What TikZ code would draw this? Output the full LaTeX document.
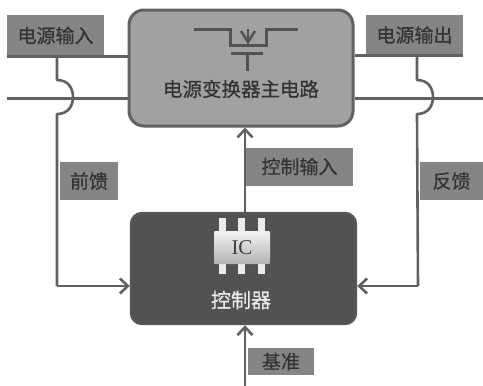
\documentclass[tikz,border=0pt]{standalone}
\usepackage{fontspec}
\setmainfont[FakeBold=0.6]{Noto Sans CJK SC}
\newfontfamily\icfont{Liberation Serif}
\usetikzlibrary{arrows.meta,calc}
\definecolor{linegray}{gray}{0.38}
\definecolor{labelgray}{gray}{0.52}
\definecolor{maingray}{gray}{0.63}
\definecolor{ctrlgray}{gray}{0.32}
\definecolor{textgray}{gray}{0.2}
\tikzset{
  x=1pt,y=-1pt,
  wire/.style={draw=linegray,line width=3pt,line join=round},
  thinwire/.style={draw=linegray,line width=2.6pt,line join=round},
  arrowwire/.style={thinwire,-{Straight Barb[length=8pt,width=15pt,line width=2.6pt]}},
  labelbox/.style={fill=labelgray,text=textgray,inner sep=0pt,font=\fontsize{19}{19}\selectfont},
  pin/.style={fill=black!8,draw=none},
  fet/.style={draw=black!68,line width=3pt,line join=miter},
}
\begin{document}
\begin{tikzpicture}
\useasboundingbox (0,0) rectangle (483,386);
\fill[white] (0,0) rectangle (483,386);
% labels
\node[labelbox,minimum width=97pt,minimum height=41pt] (inlab) at (55.5,35.5) {电源输入};
\node[labelbox,minimum width=97pt,minimum height=40pt] (outlab) at (414.5,35) {电源输出};
\node[labelbox,minimum width=58pt,minimum height=38pt] (fflab) at (89,181) {前馈};
\node[labelbox,minimum width=63pt,minimum height=38pt] (fblab) at (451.5,181) {反馈};
\node[labelbox,minimum width=107pt,minimum height=38pt] (cilab) at (299.5,166.5) {控制输入};
\node[labelbox,minimum width=66pt,minimum height=27pt] (reflab) at (281,361.5) {基准};
% main blocks
\node[draw=linegray,line width=3pt,fill=maingray,rounded corners=15pt,minimum width=224pt,minimum height=116pt] (main) at (241,68) {};
\node[draw=black!66,line width=2.4pt,fill=ctrlgray,rounded corners=11pt,minimum width=225pt,minimum height=111pt] (ctrl) at (243.5,268.5) {};
\node[text=textgray,font=\fontsize{19.5}{20}\selectfont,inner sep=0pt] (maintext) at (241,89) {电源变换器主电路};
\node[text=white!92!black,font=\fontsize{20}{20}\selectfont,inner sep=0pt] (ctrltext) at (241,300) {控制器};
% coordinates
\coordinate (lbus) at (7,98);
\coordinate (rbus) at (483,98);
\coordinate (fa) at (57,80);
\coordinate (fb) at (57,114);
\coordinate (fc) at (57,286);
\coordinate (ga) at (417,80);
\coordinate (gb) at (417,114);
\coordinate (gc) at (418,286);
\coordinate (refstart) at (245,386);
% wires
\draw[wire] (inlab.south west) -- (inlab.south east) -- (main.west |- inlab.south);
\draw[wire] (outlab.south east) -- (outlab.south west) -- (main.east |- outlab.south);
\draw[wire] (lbus) -- (main.west |- lbus);
\draw[wire] (main.east |- rbus) -- (rbus);
\draw[thinwire] (57,55) -- (fa) .. controls (68,80) and (73,88) .. (73,97) .. controls (73,106) and (68,114) .. (fb) -- (fc) ;
\draw[arrowwire] (fc) -- (ctrl.west |- fc);
\draw[thinwire] (417,55) -- (ga) .. controls (428,80) and (433,88) .. (433,97) .. controls (433,106) and (428,114) .. (gb) -- (gc);
\draw[arrowwire] (gc) -- (ctrl.east |- gc);
\draw[arrowwire] (ctrl.north -| 245,0) -- (main.south -| 245,0);
\draw[arrowwire] (refstart) -- (ctrl.south -| refstart);
% IC
\foreach \px/\n in {222/a,241/b,261/c}{
  \fill[pin] (\px-3.5,218) rectangle (\px+3.5,232);
  \fill[pin] (\px-3.5,263) rectangle (\px+3.5,274);
}
\node[top color=black!5,bottom color=black!30,draw=none,rounded corners=1pt,minimum width=56pt,minimum height=33pt,text=black!75,font=\icfont\fontsize{21}{21}\selectfont,inner sep=0pt] (ic) at (242,247.5) {IC};
% MOSFET
\draw[fet] (194,29) -- (230,29) -- (230,45) -- (266,45) -- (266,29) -- (298,29);
\draw[fet] (231,53) -- (263,53);
\draw[fet] (247,53) -- (247,71);
\draw[fet,line width=2.4pt] (248,29) -- (248,45);
\draw[fet,line width=2.4pt] (241,31) -- (248,42) -- (255,31);
\end{tikzpicture}
\end{document}
